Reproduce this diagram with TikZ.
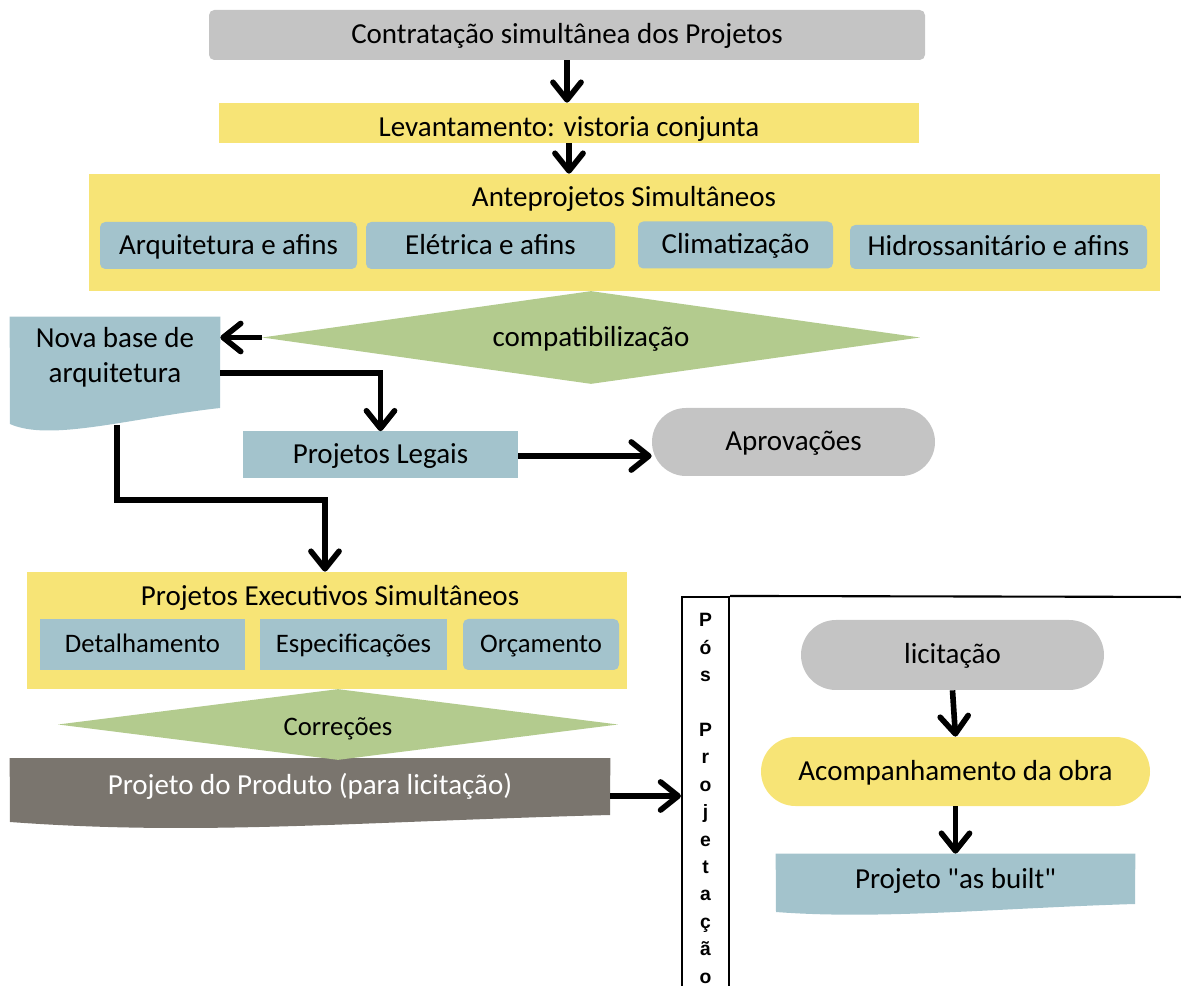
\documentclass[tikz,border=0pt]{standalone}
\usepackage{fontspec}
\setmainfont{Carlito}
\newfontfamily\sidefont{Liberation Sans}
\usetikzlibrary{arrows.meta,shapes.geometric,calc,backgrounds}

\definecolor{stepgray}{HTML}{C4C4C4}
\definecolor{stepyellow}{HTML}{F7E476}
\definecolor{stepblue}{HTML}{A3C3CC}
\definecolor{stepgreen}{HTML}{B3CB8E}
\definecolor{stepdark}{HTML}{7A756E}

\newcommand\pxl{0.02cm}

\begin{document}
\begin{tikzpicture}[x=0.02cm, y=-0.02cm,
  font=\fontsize{16.5}{20}\selectfont,
  sz/.style 2 args={minimum width=#1*\pxl, minimum height=#2*\pxl},
  base/.style={rectangle, inner sep=0pt, align=center, text=black},
  oneline/.style={text height=12.5pt, text depth=2.5pt},
  smalltext/.style={font=\fontsize{15.2}{18}\selectfont, text height=11.5pt, text depth=2.3pt},
  graybox/.style={base, oneline, fill=stepgray, rounded corners=3pt},
  yellowbox/.style={base, oneline, fill=stepyellow},
  bluebox/.style={base, oneline, fill=stepblue},
  roundblue/.style={base, oneline, fill=stepblue, rounded corners=3pt},
  decision/.style={diamond, inner sep=0pt, fill=stepgreen, align=center, oneline},
  arr/.style={line width=3.2pt, -{Straight Barb[length=10pt, width=16pt, round]}},
  frameline/.style={line width=1.2pt}]

\useasboundingbox (0,0) rectangle (1181,986);

% --- upper flow ---
\node[graybox, sz={716}{50}] (cont) at (567,35) {Contratação simultânea dos Projetos};
\node[yellowbox, sz={700}{40}] (lev) at (569,123) {\raisebox{-0.09cm}{Levantamento: vistoria conjunta}};

\node[yellowbox, sz={1071}{117}] (ante) at (624.5,232.5) {};
\node[base, oneline] (antet) at (624,198) {Anteprojetos Simultâneos};
\node[roundblue, sz={257}{47}] (arq) at (228.5,245.5) {Arquitetura e afins};
\node[roundblue, sz={249}{47}] (ele) at (490.5,245.5) {Elétrica e afins};
\node[roundblue, sz={195}{47}] (cli) at (735.5,245) {Climatização};
\node[roundblue, sz={297}{44}] (hid) at (998.5,247) {Hidrossanitário e afins};

\node[decision, aspect=7.07, sz={658}{93}] (comp) at (591,337.5) {compatibilização};

% document shape: new architecture base
\node[base, sz={210}{80}] (nb) at (115,357) {Nova base de\\arquitetura};
\coordinate (nbb) at (117,425);

\node[bluebox, sz={275}{47}] (legais) at (380.5,455) {Projetos Legais};
\node[base, oneline, fill=stepgray, rounded corners=0.68cm, sz={283}{68}] (aprov) at (793.5,442) {Aprovações};

% --- executive projects ---
\node[yellowbox, sz={600}{117}] (exec) at (327,630.5) {};
\node[base, oneline] (exect) at (330,597) {Projetos Executivos Simultâneos};
\node[bluebox, smalltext, sz={205}{51}] (det) at (142.5,644.5) {Detalhamento};
\node[bluebox, smalltext, sz={187}{51}] (esp) at (353.5,644.5) {Especificações};
\node[roundblue, smalltext, sz={156}{51}] (orc) at (541,644.5) {Orçamento};

\node[decision, smalltext, aspect=7.89, sz={560}{71}] (corr) at (338,724.5) {\raisebox{-0.05cm}{Correções}};

\node[base, oneline, sz={600}{55}, text=white] (prod) at (310,786) {Projeto do Produto (para licitação)};

% --- post-design lane ---
\node[base, draw, frameline, sz={47}{403},
      font=\sidefont\bfseries\fontsize{11}{15.6}\selectfont] (pos) at (705.5,798.5)
  {P\\ó\\s\\[15.6pt]P\\r\\o\\j\\e\\t\\a\\ç\\ã\\o};
\draw[frameline] (pos.north east) -- (1200,597);

\node[base, oneline, fill=stepgray, rounded corners=0.7cm, sz={303}{70}] (lic) at (952.5,655) {licitação};
\node[base, oneline, fill=stepyellow, rounded corners=0.69cm, sz={389}{69}] (acomp) at (955.5,771.5) {Acompanhamento da obra};
\node[base, oneline, sz={359}{51}] (asb) at (955.5,879.5) {Projeto \textquotedbl as built\textquotedbl};

% wavy-bottom document fills
\begin{pgfonlayer}{background}
  \fill[stepblue] (nb.north west) -- (nb.north east) -- (220,408)
    .. controls (130,418) and (50,442) .. (10,424) -- cycle;
  \fill[stepdark] (prod.north west) -- (prod.north east) -- (610,815)
    .. controls (350,822) and (200,836) .. (10,822) -- cycle;
  \fill[stepblue] (asb.north west) -- (asb.north east) -- (1135,904)
    .. controls (1000,908) and (880,920) .. (776,912) -- cycle;
\end{pgfonlayer}

% --- connectors ---
\draw[arr] (cont.south) -- (cont.south |- lev.north);
\draw[arr] (lev.south) -- (lev.south |- ante.north);
\draw[arr] (comp.west) -- (comp.west -| nb.east);
\draw[arr] ($(nb.east)+(0,16)$) -| (legais.north);
\draw[arr] ($(legais.east)+(0,1)$) coordinate (le) -- (le -| aprov.west);
\draw[arr] (nbb) -- ++(0,75) -| ($(exec.north)+(-2,0)$);
\draw[arr] ($(prod.east)+(0,10)$) coordinate (pe) -- (pe -| pos.west);
\draw[arr] (lic.south) -- (acomp.north);
\draw[arr] (acomp.south) -- (asb.north);

\end{tikzpicture}
\end{document}
